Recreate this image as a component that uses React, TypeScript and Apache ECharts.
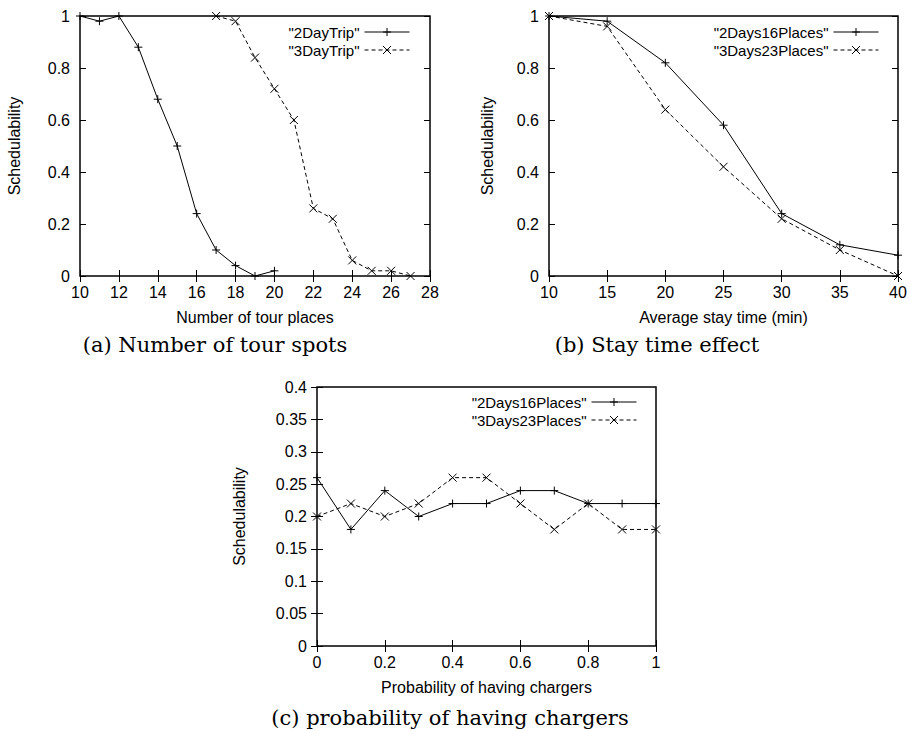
import React, { useEffect, useRef } from "react";
import * as echarts from "echarts";

// (a) Number of tour spots
const placesA2 = [10, 11, 12, 13, 14, 15, 16, 17, 18, 19, 20];
const sched2DayTrip = [1, 0.98, 1, 0.88, 0.68, 0.5, 0.24, 0.1, 0.04, 0, 0.02];
const placesA3 = [17, 18, 19, 20, 21, 22, 23, 24, 25, 26, 27];
const sched3DayTrip = [1, 0.98, 0.84, 0.72, 0.6, 0.26, 0.22, 0.06, 0.02, 0.02, 0];

// (b) Stay time effect
const stayTimes = [10, 15, 20, 25, 30, 35, 40];
const stay2Days16 = [1, 0.98, 0.82, 0.58, 0.24, 0.12, 0.08];
const stay3Days23 = [1, 0.96, 0.64, 0.42, 0.22, 0.1, 0];

// (c) probability of having chargers
const chargerProb = [0, 0.1, 0.2, 0.3, 0.4, 0.5, 0.6, 0.7, 0.8, 0.9, 1];
const charger2Days16 = [0.26, 0.18, 0.24, 0.2, 0.22, 0.22, 0.24, 0.24, 0.22, 0.22, 0.22];
const charger3Days23 = [0.2, 0.22, 0.2, 0.22, 0.26, 0.26, 0.22, 0.18, 0.22, 0.18, 0.18];

const names2Day = ['"2DayTrip"', '"3DayTrip"'];
const names16_23 = ['"2Days16Places"', '"3Days23Places"'];

const captions = ["(a) Number of tour spots", "(b) Stay time effect", "(c) probability of having chargers"];

const SANS = "'Liberation Sans', Arial, Helvetica, sans-serif";
const SERIF = "'DejaVu Serif', 'Liberation Serif', serif";

const PLUS = "path://M0,5L10,5M5,0L5,10";
const CROSS = "path://M0,0L10,10M10,0L0,10";

function mkSeries(name: string, xs: number[], ys: number[], dashed: boolean, grid: number) {
  return {
    type: "line",
    name,
    xAxisIndex: grid * 2,
    yAxisIndex: grid * 2,
    data: xs.map((x, i) => [x, ys[i]]),
    symbol: dashed ? CROSS : PLUS,
    symbolSize: 8,
    showAllSymbol: true,
    itemStyle: { color: "rgba(0,0,0,0)", borderColor: "#000", borderWidth: 1 },
    lineStyle: { color: "#000", width: 1, type: dashed ? [4, 3] : "solid" },
    emphasis: { disabled: true },
    z: 3,
  };
}

function mkAxes(
  grid: number,
  min: number,
  max: number,
  interval: number,
  name: string,
  nameGap: number,
  isX: boolean
) {
  const common = {
    gridIndex: grid,
    type: "value",
    min,
    max,
    interval,
    axisLine: { show: false },
    splitLine: { show: false },
    axisTick: { show: true, inside: true, length: 6, lineStyle: { color: "#000", width: 1 } },
  };
  const primary = {
    ...common,
    position: isX ? "bottom" : "left",
    axisLabel: { color: "#000", fontSize: 16, fontFamily: SANS, margin: isX ? 8 : 10 },
    name,
    nameLocation: "middle",
    nameGap,
    nameRotate: isX ? 0 : 90,
    nameTextStyle: { color: "#000", fontSize: 16, fontFamily: SANS },
  };
  const mirror = {
    ...common,
    position: isX ? "top" : "right",
    axisLabel: { show: false },
  };
  return [primary, mirror];
}

function mkLegend(data: string[], right: number, top: number) {
  return {
    data,
    orient: "vertical",
    align: "right",
    right,
    top,
    padding: 0,
    itemGap: 0,
    itemWidth: 45,
    itemHeight: 10,
    selectedMode: false,
    lineStyle: { width: 1 },
    itemStyle: { borderWidth: 1 },
    textStyle: { color: "#000", fontSize: 15, fontFamily: SANS, lineHeight: 18 },
  };
}

export default function App() {
  const ref = useRef<HTMLDivElement>(null);
  useEffect(() => {
    if (!ref.current) return;
    const chart = echarts.init(ref.current, null, { renderer: "svg" });
    const gridStyle = { show: true, borderColor: "#000", borderWidth: 1.5, backgroundColor: "transparent", containLabel: false };
    const capFont = `21px ${SERIF}`;
    const option = {
      animation: false,
      backgroundColor: "#fff",
      grid: [
        { ...gridStyle, left: 80, top: 16, width: 350, height: 260 },
        { ...gridStyle, left: 549, top: 16, width: 349, height: 260 },
        { ...gridStyle, left: 317, top: 387, width: 339, height: 259 },
      ],
      xAxis: [
        ...mkAxes(0, 10, 28, 2, "Number of tour places", 33, true),
        ...mkAxes(1, 10, 40, 5, "Average stay time (min)", 33, true),
        ...mkAxes(2, 0, 1, 0.2, "Probability of having chargers", 33, true),
      ],
      yAxis: [
        ...mkAxes(0, 0, 1, 0.2, "Schedulability", 58, false),
        ...mkAxes(1, 0, 1, 0.2, "Schedulability", 54, false),
        ...mkAxes(2, 0, 0.4, 0.05, "Schedulability", 70, false),
      ],
      legend: [
        mkLegend(names2Day, 503, 23),
        mkLegend(names16_23, 34, 23),
        mkLegend(names16_23, 276, 393),
      ],
      series: [
        mkSeries(names2Day[0], placesA2, sched2DayTrip, false, 0),
        mkSeries(names2Day[1], placesA3, sched3DayTrip, true, 0),
        mkSeries(names16_23[0], stayTimes, stay2Days16, false, 1),
        mkSeries(names16_23[1], stayTimes, stay3Days23, true, 1),
        mkSeries(names16_23[0], chargerProb, charger2Days16, false, 2),
        mkSeries(names16_23[1], chargerProb, charger3Days23, true, 2),
      ],
      graphic: [
        { type: "text", x: 215, y: 345, style: { text: captions[0], font: capFont, fill: "#000", align: "center", verticalAlign: "middle" } },
        { type: "text", x: 657, y: 345, style: { text: captions[1], font: capFont, fill: "#000", align: "center", verticalAlign: "middle" } },
        { type: "text", x: 450, y: 718, style: { text: captions[2], font: capFont, fill: "#000", align: "center", verticalAlign: "middle" } },
      ],
    };
    chart.setOption(option as any);
    return () => chart.dispose();
  }, []);
  return <div ref={ref} style={{ position: "fixed", left: 0, top: 0, width: 913, height: 731 }} />;
}
